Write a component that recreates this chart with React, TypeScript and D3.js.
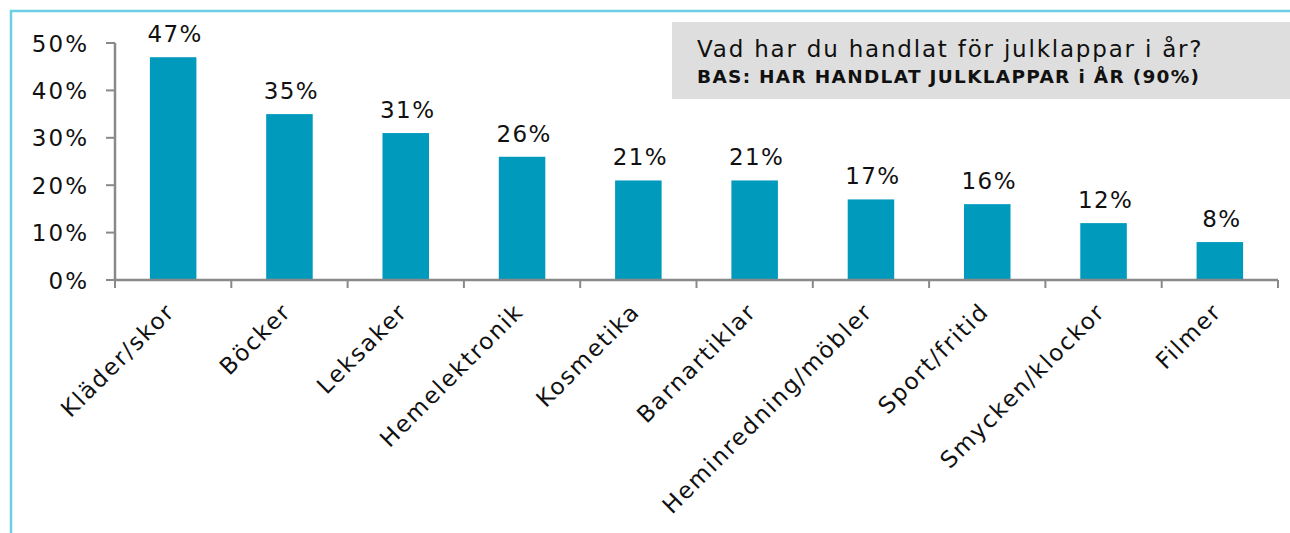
import React from "react";
import * as d3 from "d3";

const categories = ["Kläder/skor", "Böcker", "Leksaker", "Hemelektronik", "Kosmetika", "Barnartiklar", "Heminredning/möbler", "Sport/fritid", "Smycken/klockor", "Filmer"];
const values = [47, 35, 31, 26, 21, 21, 17, 16, 12, 8];
const yTicks = [0, 10, 20, 30, 40, 50];
const title = "Vad har du handlat för julklappar i år?";
const subtitle = "BAS: HAR HANDLAT JULKLAPPAR i ÅR (90%)";

const W = 1290, H = 533;
const FONT = "'DejaVu Sans', Verdana, sans-serif";

export default function App() {
  const x = d3.scaleBand<string>().domain(categories).range([115, 1278]).paddingInner(0.6).paddingOuter(0.3);
  const xAxis = d3.scaleLinear().domain([0, categories.length]).range([115, 1278]);
  const y = d3.scaleLinear().domain([0, 50]).range([280, 43]);
  const bw = x.bandwidth();
  const ls = 1.8;
  return (
    <div style={{ position: "absolute", left: 0, top: 0 }}>
      <svg width={W} height={H} style={{ display: "block", fontFamily: FONT }}>
        <rect width={W} height={H} fill="#fff" />
        <path d={`M11,${H} L11,11 L${W},11`} fill="none" stroke="#6ccfe3" strokeWidth={2.5} />
        <rect x={672} y={22} width={W - 672} height={77} fill="#dedede" />
        <text x={697} y={57} fontSize={23} letterSpacing={1.8} fill="#111">{title}</text>
        <text x={697} y={83} fontSize={18.5} fontWeight="bold" letterSpacing={1.3} fill="#111">{subtitle}</text>
        {categories.map((c, i) => (
          <rect key={c} x={x(c)!} y={y(values[i])} width={bw} height={y(0) - y(values[i])} fill="#009abd" />
        ))}
        {categories.map((c, i) => (
          <text key={c} x={x(c)! + bw / 2 + 2} y={y(values[i]) - 15} textAnchor="middle" fontSize={23} letterSpacing={1.4} fill="#111">{values[i]}%</text>
        ))}
        <line x1={115} x2={115} y1={y(50)} y2={y(0)} stroke="#898989" strokeWidth={2.5} />
        <line x1={115} x2={1278} y1={y(0)} y2={y(0)} stroke="#898989" strokeWidth={2.5} />
        {yTicks.map((t) => (
          <g key={t}>
            <line x1={106} x2={115} y1={y(t)} y2={y(t)} stroke="#898989" strokeWidth={2} />
            <text x={89} y={y(t) + 8.5} textAnchor="end" fontSize={23} letterSpacing={2} fill="#111">{t}%</text>
          </g>
        ))}
        {d3.range(categories.length + 1).map((i) => (
          <line key={i} x1={xAxis(i)} x2={xAxis(i)} y1={y(0)} y2={y(0) + 8} stroke="#898989" strokeWidth={2} />
        ))}
        {categories.map((c) => {
          const cx = x(c)! + bw / 2 + 3;
          const cy = 313;
          return (
            <text key={c} transform={`translate(${cx},${cy}) rotate(-45)`} textAnchor="end" fontSize={23} letterSpacing={ls} fill="#111">{c}</text>
          );
        })}
      </svg>
    </div>
  );
}
